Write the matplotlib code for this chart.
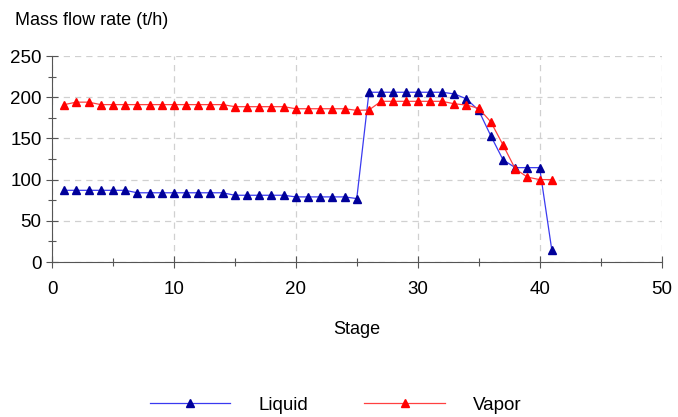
import matplotlib
matplotlib.use("Agg")
import matplotlib.pyplot as plt
from matplotlib.ticker import MultipleLocator

plt.rcParams['font.family'] = ['Liberation Sans', 'DejaVu Sans']

stages = list(range(1, 42))
liquid = [87, 87, 87, 87, 87, 87, 84, 84, 84, 84, 84, 84, 84, 84,
          81, 81, 81, 81, 81, 79, 79, 79, 79, 79, 77,
          206, 206, 206, 206, 206, 206, 206, 204, 198, 184, 153, 124,
          114.5, 114.5, 114.5, 14.5]
vapor = [191, 194, 194, 191, 191, 191, 191, 191, 191, 191, 191, 191, 191, 191,
         188.5, 188.5, 188.5, 188.5, 188.5, 186, 186, 186, 186, 186, 184,
         184.5, 195, 195, 195, 195, 195, 195, 192, 190.5, 186.5, 170, 142,
         113, 103, 100, 100]

fig = plt.figure(figsize=(6.78, 4.17), dpi=100)
ax = fig.add_axes([0.0767, 0.3717, 0.899, 0.494])

ax.plot(stages, liquid, color="#3a3af0", lw=0.9, marker="^", ms=5.5,
        mfc="#00009a", mec="#00009a", label="Liquid")
ax.plot(stages, vapor, color="#ff4040", lw=0.9, marker="^", ms=5.5,
        mfc="#ff0000", mec="#ff0000", label="Vapor")

ax.set_xlim(0, 50)
ax.set_ylim(0, 250)
ax.xaxis.set_major_locator(MultipleLocator(10))
ax.xaxis.set_minor_locator(MultipleLocator(5))
ax.yaxis.set_major_locator(MultipleLocator(50))
ax.yaxis.set_minor_locator(MultipleLocator(25))
ax.tick_params(which="both", direction="inout", length=8, width=0.8,
               colors="#555555", labelcolor="black", labelsize=13.5)
ax.tick_params(which="minor", length=6)
ax.tick_params(axis="x", which="major", pad=10)
ax.grid(True, which="major", ls=(0, (5, 4)), color="#d0d0d0", lw=0.9)
for s in ("top", "right"):
    ax.spines[s].set_visible(False)
for s in ("left", "bottom"):
    ax.spines[s].set_color("#555555")

fig.text(0.022, 0.95, "Mass flow rate (t/h)", fontsize=13, va="center")
ax.set_xlabel("Stage", fontsize=13, labelpad=16)

fig.legend(loc="center", bbox_to_anchor=(0.495, 0.028), ncol=2, frameon=False,
           fontsize=13.5, handlelength=4.3, handletextpad=1.5,
           columnspacing=3.0)

fig.savefig("out.png", dpi=100)
